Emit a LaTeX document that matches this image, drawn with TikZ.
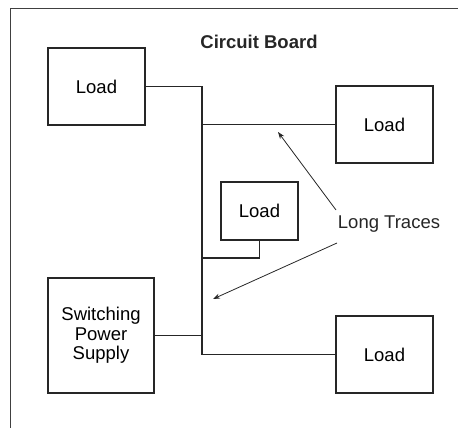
\documentclass[tikz,border=0pt]{standalone}
\usepackage{fontspec}
\setmainfont{Liberation Sans}
\usetikzlibrary{arrows.meta}
\begin{document}
\begin{tikzpicture}[x=1pt,y=-1pt,
  box/.style={draw=black!85,line width=1.5pt,inner sep=0pt,font=\fontsize{18.5}{19.5}\selectfont,align=center},
  trace/.style={draw=black!85,line width=1.5pt},
  pointer/.style={draw=black!85,line width=0.8pt,-{Stealth[length=7pt,width=5pt]}},
  lbl/.style={font=\fontsize{18.5}{22}\selectfont,text=black!85}]
\useasboundingbox (0,0) rectangle (458,428);
\draw[black!75,line width=1pt] (458,9) -- (10,9) -- (10,428);
\node[lbl,font=\fontsize{18.5}{22}\selectfont\bfseries] (title) at (259,42) {Circuit Board};
\node[box,minimum width=97pt,minimum height=77pt] (l1) at (96.5,86.5) {Load};
\node[box,minimum width=97pt,minimum height=77pt] (l2) at (384.5,124.5) {Load};
\node[box,minimum width=77pt,minimum height=58pt] (l3) at (259.5,211) {Load};
\node[box,minimum width=106pt,minimum height=115pt] (ps) at (101,335.5) {Switching\\Power\\Supply};
\node[box,minimum width=97pt,minimum height=77pt] (l4) at (384.5,354.5) {Load};
\coordinate (vt) at (202,86.5);
\coordinate (vb) at (202,354.5);
\coordinate (j2) at (202,124.5);
\coordinate (j3) at (202,258);
\coordinate (j3b) at (l3.south |- j3);
\coordinate (jp) at (202,335.5);
\draw[trace] (l1.east) -- (vt) -- (vb) -- (l4.west);
\draw[trace] (j2) -- (l2.west);
\draw[trace] (l3.south) -- (j3b) -- (j3);
\draw[trace] (ps.east) -- (jp);
\node[lbl] (lt) at (389,224) {Long Traces};
\coordinate (a1) at (278,132);
\coordinate (a2) at (213,299);
\draw[pointer] (336,210) -- (a1);
\draw[pointer] (337,243) -- (a2);
\end{tikzpicture}
\end{document}
